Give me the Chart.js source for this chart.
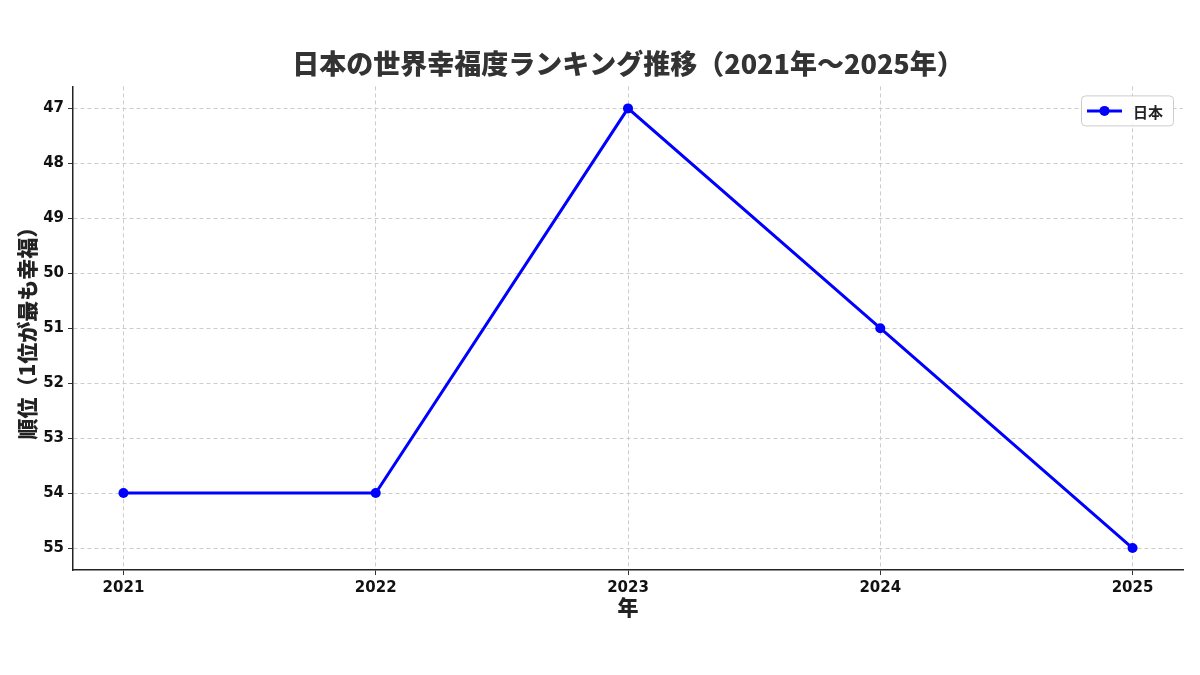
<!DOCTYPE html>
<html>
<head>
<meta charset="utf-8">
<script src="https://cdn.jsdelivr.net/npm/chart.js@4/dist/chart.umd.min.js"></script>
<style>
  html, body { margin: 0; padding: 0; background: #fff; }
  #wrap { width: 1200px; height: 675px; }
</style>
</head>
<body>
<div id="wrap"><canvas id="rankChart" width="1200" height="675"></canvas></div>
<script>
const title = '日本の世界幸福度ランキング推移（2021年〜2025年）'
const years = [2021, 2022, 2023, 2024, 2025]
const ranks = [54, 54, 47, 51, 55]
const seriesName = '日本'
const yTicks = [47, 48, 49, 50, 51, 52, 53, 54, 55]

const FONT = "'DejaVu Sans', 'Noto Sans CJK JP', sans-serif"
const CJK = "'Noto Sans CJK JP', 'DejaVu Sans', sans-serif"
const BLUE = '#0000ff'

// legend drawn in the upper right corner of the plot, matplotlib style
const cornerLegend = {
    id: 'cornerLegend',
    afterDatasetsDraw(chart) {
        const area = chart.chartArea
        const ds = chart.data.datasets[0]
        const ctx = chart.ctx
        const w = 92, h = 30
        const x = area.right - 10 - w
        const y = area.top + 9
        ctx.save()
        ctx.fillStyle = 'rgba(255,255,255,0.85)'
        ctx.strokeStyle = '#cccccc'
        ctx.lineWidth = 1
        ctx.beginPath()
        ctx.roundRect(x + 0.5, y + 0.5, w, h, 4)
        ctx.fill()
        ctx.stroke()
        const cy = y + h / 2 + 0.5
        ctx.strokeStyle = ds.borderColor
        ctx.lineWidth = 3
        ctx.beginPath()
        ctx.moveTo(x + 6, cy)
        ctx.lineTo(x + 41, cy)
        ctx.stroke()
        ctx.fillStyle = ds.borderColor
        ctx.beginPath()
        ctx.arc(x + 23.5, cy, 5, 0, Math.PI * 2)
        ctx.fill()
        ctx.fillStyle = '#222'
        ctx.font = 'bold 15px ' + CJK
        ctx.textBaseline = 'middle'
        ctx.fillText(ds.label, x + 52, cy + 1)
        ctx.restore()
    }
}

var ctx = document.getElementById('rankChart')
var myChart = new Chart(ctx, {
    type: 'line',
    data: {
        datasets: [{
            label: seriesName,
            data: years.map((y, i) => ({ x: y, y: ranks[i] })),
            borderColor: BLUE,
            backgroundColor: BLUE,
            borderWidth: 3,
            pointRadius: 5,
            pointHoverRadius: 5,
            pointBackgroundColor: BLUE,
            pointBorderWidth: 0,
            tension: 0
        }]
    },
    options: {
        responsive: false,
        animation: false,
        layout: { padding: { left: 0, right: 17, top: 0, bottom: 0 } },
        plugins: {
            title: {
                display: true,
                fullSize: false,
                text: title,
                color: '#333333',
                font: { family: CJK, size: 27, weight: '900', lineHeight: 1.2 },
                padding: { top: 48, bottom: 6 }
            },
            legend: { display: false },
            tooltip: { enabled: false }
        },
        scales: {
            x: {
                type: 'linear',
                min: 2020.8,
                max: 2025.2,
                afterFit(scale) { scale.height = 105 },
                ticks: {
                    stepSize: 1,
                    includeBounds: false,
                    color: '#111',
                    padding: 4,
                    font: { family: FONT, size: 15, weight: 'bold' },
                    callback: v => String(v)
                },
                grid: { color: '#cccccc', tickLength: 5, tickColor: '#333' },
                border: { display: true, color: '#222', width: 1.5, dash: [4, 3] },
                title: {
                    display: true,
                    text: '年',
                    color: '#222',
                    font: { family: CJK, size: 21, weight: '900', lineHeight: 1.2 },
                    padding: { top: 0, bottom: 55 }
                }
            },
            y: {
                type: 'linear',
                reverse: true,
                min: 46.6,
                max: 55.4,
                afterFit(scale) { scale.width = 73 },
                afterBuildTicks(scale) { scale.ticks = yTicks.map(v => ({ value: v })) },
                ticks: {
                    color: '#111',
                    padding: 4,
                    font: { family: FONT, size: 15, weight: 'bold' },
                    callback: v => String(v)
                },
                grid: { color: '#cccccc', tickLength: 5, tickColor: '#333' },
                border: { display: true, color: '#222', width: 1.5, dash: [4, 3] },
                title: {
                    display: true,
                    text: '順位（1位が最も幸福）',
                    color: '#222',
                    font: { family: CJK, size: 21, weight: '900', lineHeight: 1.2 },
                    padding: { top: 14, bottom: 0 }
                }
            }
        }
    },
    plugins: [cornerLegend]
})
</script>
</body>
</html>
